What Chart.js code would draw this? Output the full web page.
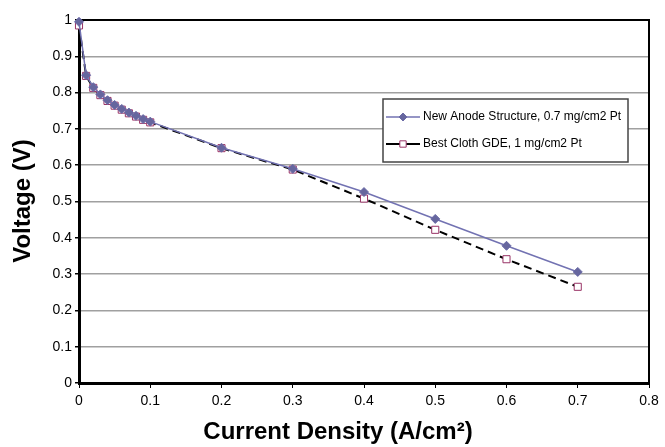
<!DOCTYPE html>
<html>
<head>
<meta charset="utf-8">
<script src="https://cdn.jsdelivr.net/npm/chart.js@4.4.1/dist/chart.umd.min.js"></script>
<style>
  html, body { margin: 0; padding: 0; background: #fff; }
  #wrap { width: 665px; height: 447px; }
</style>
</head>
<body>
<div id="wrap"><canvas id="fuelCell" width="665" height="447"></canvas></div>
<script>
// current density (A/cm2) and cell voltage (V)
const currentDensity = [0, 0.01, 0.02, 0.03, 0.04, 0.05, 0.06, 0.07, 0.08, 0.09, 0.1, 0.2, 0.3, 0.4, 0.5, 0.6, 0.7];
const newAnodeVoltage = [0.995, 0.848, 0.815, 0.795, 0.779, 0.766, 0.755, 0.745, 0.736, 0.727, 0.720, 0.648, 0.590, 0.526, 0.452, 0.378, 0.306];
const clothVoltage = [0.985, 0.846, 0.813, 0.793, 0.777, 0.764, 0.753, 0.743, 0.734, 0.725, 0.718, 0.647, 0.588, 0.508, 0.422, 0.341, 0.265];
const seriesNames = ['New Anode Structure, 0.7 mg/cm2 Pt', 'Best Cloth GDE, 1 mg/cm2 Pt'];
const xTitle = 'Current Density (A/cm\u00B2)';
const yTitle = 'Voltage (V)';

const FONT = '"Liberation Sans", Arial, sans-serif';

function toPoints(xs, ys) {
    return xs.map((x, i) => ({ x: x, y: ys[i] }));
}

function fmtTick(v) {
    const r = Math.round(v * 10) / 10;
    return (r === 0 || r === 1) ? String(r) : r.toFixed(1);
}

// frame round the plot area (top and right edges)
const frame = {
    id: 'frame',
    beforeDatasetsDraw(chart) {
        const a = chart.chartArea;
        const c = chart.ctx;
        c.save();
        c.strokeStyle = '#000';
        c.lineWidth = 2;
        c.beginPath();
        c.moveTo(a.left, a.top);
        c.lineTo(a.right, a.top);
        c.lineTo(a.right, a.bottom);
        c.stroke();
        c.restore();
    }
};

// legend box inside the plot, like the original
const boxLegend = {
    id: 'boxLegend',
    afterDraw(chart) {
        const c = chart.ctx;
        const bx = 383, by = 99, bw = 245, bh = 63;
        c.save();
        c.fillStyle = '#fff';
        c.fillRect(bx, by, bw, bh);
        c.strokeStyle = '#444';
        c.lineWidth = 1.5;
        c.strokeRect(bx, by, bw, bh);
        chart.data.datasets.forEach((ds, i) => {
            const y = by + 18 + i * 27;
            c.strokeStyle = ds.borderColor;
            c.lineWidth = ds.borderWidth;
            c.setLineDash([]);
            c.beginPath();
            c.moveTo(386, y);
            c.lineTo(420, y);
            c.stroke();
            c.fillStyle = ds.pointBackgroundColor;
            c.strokeStyle = ds.pointBorderColor;
            c.lineWidth = ds.pointBorderWidth;
            Chart.helpers.drawPoint(c, {
                pointStyle: ds.pointStyle,
                radius: ds.pointRadius - 0.5,
                borderWidth: ds.pointBorderWidth
            }, 403, y);
            c.fillStyle = '#000';
            c.font = '12px ' + FONT;
            c.textBaseline = 'middle';
            c.textAlign = 'left';
            c.fillText(ds.label, 423, y);
        });
        c.restore();
    }
};

// axis titles
const axisTitles = {
    id: 'axisTitles',
    afterDraw(chart) {
        const c = chart.ctx;
        c.save();
        c.fillStyle = '#000';
        c.font = 'bold 24px ' + FONT;
        c.textAlign = 'center';
        c.textBaseline = 'middle';
        c.fillText(xTitle, 338, 432);
        c.translate(23, 201);
        c.rotate(-Math.PI / 2);
        c.fillText(yTitle, 0, 0);
        c.restore();
    }
};

new Chart(document.getElementById('fuelCell'), {
    type: 'line',
    data: {
        datasets: [{
            label: seriesNames[0],
            data: toPoints(currentDensity, newAnodeVoltage),
            borderColor: '#7272b2',
            borderWidth: 1.5,
            pointStyle: 'rectRot',
            pointRadius: 4.5,
            pointBackgroundColor: '#66669e',
            pointBorderColor: '#6a6aa6',
            pointBorderWidth: 1,
            clip: false,
            tension: 0
        }, {
            label: seriesNames[1],
            data: toPoints(currentDensity, clothVoltage),
            borderColor: '#000',
            borderWidth: 2,
            borderDash: [8, 5],
            pointStyle: 'rect',
            pointRadius: 5,
            pointBackgroundColor: '#fff',
            pointBorderColor: '#993366',
            pointBorderWidth: 1,
            clip: false,
            tension: 0
        }]
    },
    options: {
        responsive: false,
        animation: false,
        devicePixelRatio: 1,
        layout: { padding: { top: 20, right: 16, left: 0, bottom: 0 } },
        plugins: {
            legend: { display: false },
            tooltip: { enabled: false }
        },
        scales: {
            x: {
                type: 'linear',
                min: 0,
                max: 0.8,
                afterFit(scale) { scale.height = 64; },
                border: { color: '#000', width: 3 },
                grid: { drawOnChartArea: false, drawTicks: true, tickLength: 5, tickColor: '#000', lineWidth: 1 },
                ticks: {
                    stepSize: 0.1,
                    padding: 5,
                    color: '#000',
                    font: { family: FONT, size: 14 },
                    callback: fmtTick
                }
            },
            y: {
                type: 'linear',
                min: 0,
                max: 1,
                afterFit(scale) { scale.width = 79; },
                border: { color: '#000', width: 3 },
                grid: { color: '#a0a0a0', lineWidth: 1.5, tickLength: 4, tickColor: '#000' },
                ticks: {
                    stepSize: 0.1,
                    padding: 3,
                    color: '#000',
                    font: { family: FONT, size: 14 },
                    callback: fmtTick
                }
            }
        }
    },
    plugins: [frame, boxLegend, axisTitles]
});
</script>
</body>
</html>
